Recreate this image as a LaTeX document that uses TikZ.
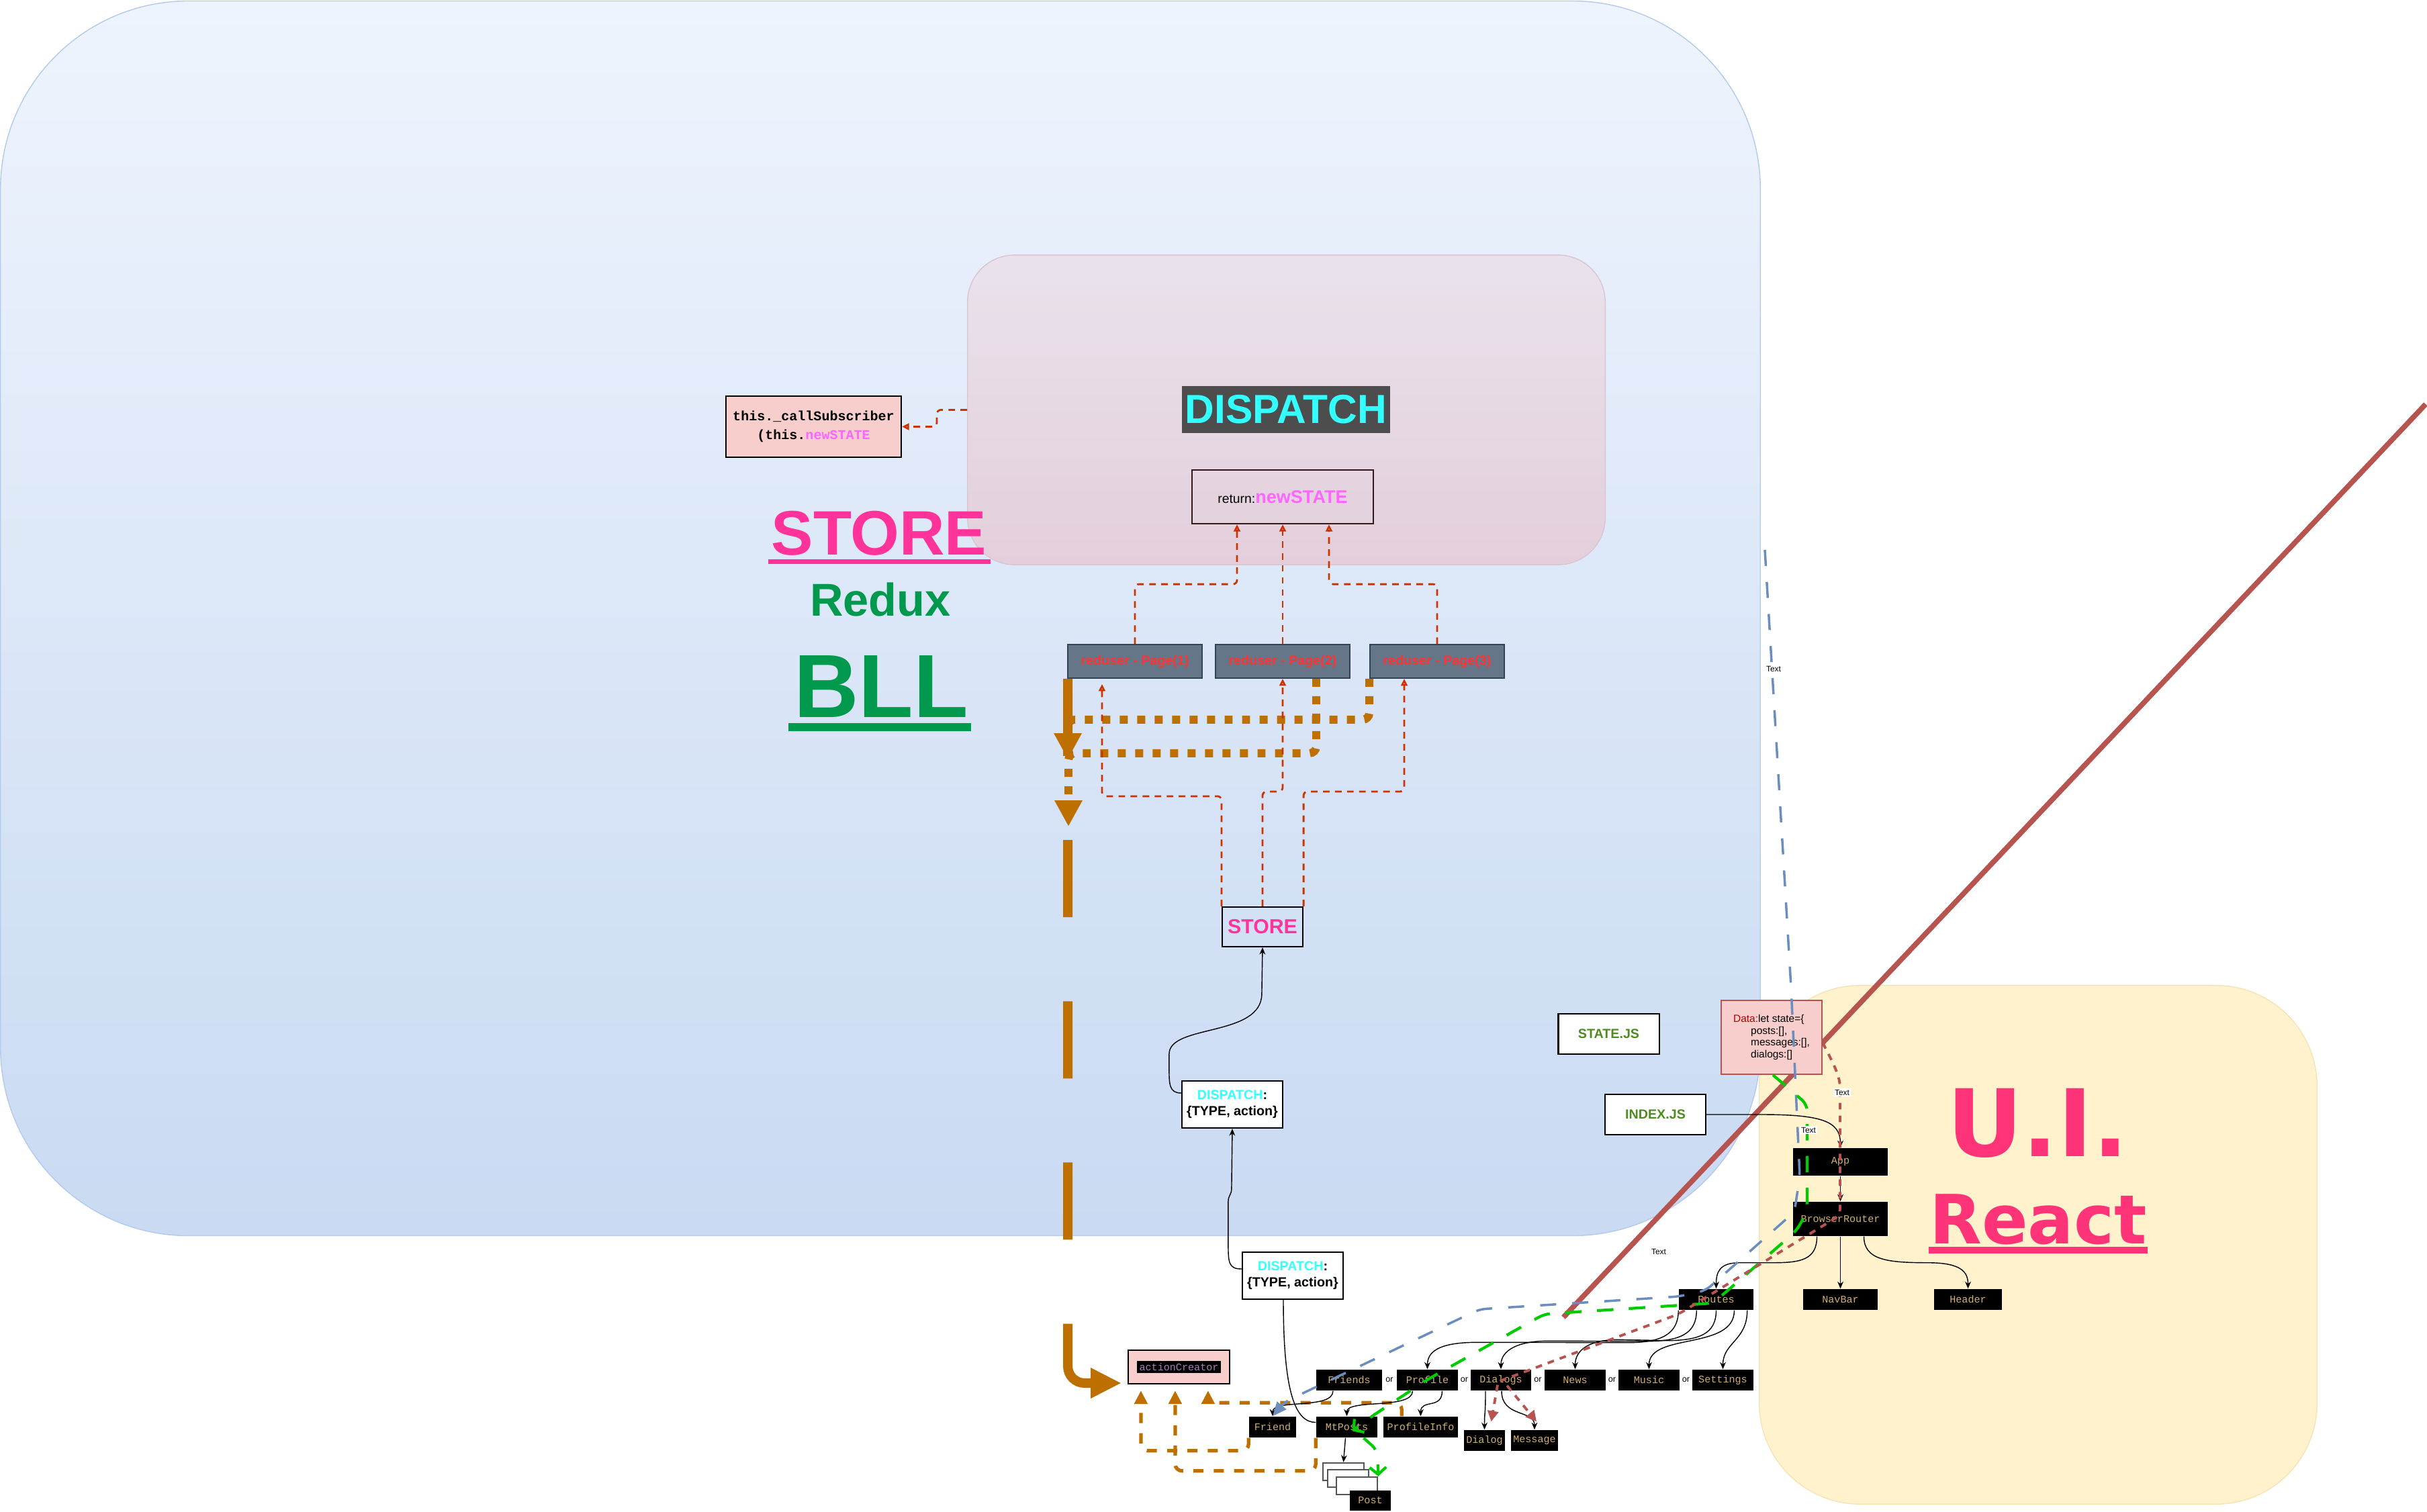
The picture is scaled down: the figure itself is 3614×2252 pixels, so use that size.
\documentclass[tikz,border=0pt]{standalone}
\usepackage{fontspec}
\setmainfont{Liberation Sans}
\setmonofont{Liberation Mono}
\newfontfamily\djv{DejaVu Sans}
\usetikzlibrary{arrows.meta,calc}
\definecolor{bluetop}{HTML}{EEF4FD}
\definecolor{bluebot}{HTML}{C9DAF2}
\definecolor{blueln}{HTML}{B3CAEC}
\definecolor{yelfill}{HTML}{FFF2CC}
\definecolor{yelln}{HTML}{F3E3B5}
\definecolor{pinktop}{HTML}{E9E2EC}
\definecolor{pinkbot}{HTML}{E3CFDB}
\definecolor{pinkln}{HTML}{D9C4D2}
\definecolor{storepink}{HTML}{FF3399}
\definecolor{bllgreen}{HTML}{00994D}
\definecolor{uipink}{HTML}{FF3377}
\definecolor{dcyan}{HTML}{33FFFF}
\definecolor{dgrey}{HTML}{4D4D4D}
\definecolor{mag}{HTML}{FF66FF}
\definecolor{redor}{HTML}{CC3300}
\definecolor{ocol}{HTML}{BD7000}
\definecolor{redtxt}{HTML}{FF3333}
\definecolor{rgray}{HTML}{647687}
\definecolor{rgrayln}{HTML}{314354}
\definecolor{pinkfill}{HTML}{F8CECC}
\definecolor{dred}{HTML}{B85450}
\definecolor{datared}{HTML}{B20000}
\definecolor{tancol}{HTML}{D0B070}
\definecolor{jsgreen}{HTML}{4E8C21}
\definecolor{actpurple}{HTML}{A680B8}
\definecolor{dblue}{HTML}{6C8EBF}
\definecolor{dgreen}{HTML}{00CC00}
\definecolor{retln}{HTML}{331A1A}
\definecolor{stackln}{HTML}{555555}
\newcommand\fsz[2]{\fontsize{#1pt}{#2pt}\selectfont}
\tikzset{
  mono/.style={fill=black, text=tancol, font=\ttfamily\fsz{4.3}{5}, inner sep=0pt, minimum height=0.31cm},
  orlbl/.style={font=\fsz{3.6}{4}, inner sep=0pt},
  txtlbl/.style={font=\fsz{3.4}{4}, inner sep=0.6pt},
  redbox/.style={fill=rgray, draw=rgrayln, line width=0.5pt, text=redtxt, font=\bfseries\fsz{5.6}{6}, minimum width=2cm, minimum height=0.5cm, inner sep=0pt},
  wbox/.style={fill=white, draw=black, line width=0.6pt, inner sep=0pt},
  jsbox/.style={wbox, text=jsgreen, font=\bfseries\fsz{5.6}{6.5}, minimum width=1.5cm, minimum height=0.6cm},
  dispnode/.style={wbox, font=\bfseries\fsz{5.6}{6.8}, align=center, minimum width=1.5cm, minimum height=0.7cm},
  stackbox/.style={fill=white, draw=stackln, line width=0.7pt, minimum width=0.61cm, minimum height=0.26cm, inner sep=0pt},
  rdot/.style={draw=redor, line width=0.8pt, dash pattern=on 2.8pt off 2.3pt, rounded corners=0.06cm, -{Triangle[open,length=3pt,width=2.8pt]}},
  blk/.style={draw=black, line width=0.4pt, -{Stealth[length=3pt,width=2.5pt]}},
  blkline/.style={draw=black, line width=0.4pt},
  othick/.style={draw=ocol, line width=4pt, dash pattern=on 32.7pt off 35.6pt, rounded corners=0.25cm, -{Triangle[length=13pt,width=12pt]}},
  odot/.style={draw=ocol, line width=3.4pt, dash pattern=on 3.4pt off 4pt, rounded corners=0.1cm, -{Triangle[length=11pt,width=11pt]}},
  odash/.style={draw=ocol, line width=1.5pt, dash pattern=on 4.3pt off 4.3pt, rounded corners=0.1cm, -{Triangle[length=5.7pt,width=5.4pt]}},
  bdash/.style={draw=dblue, line width=1pt, dash pattern=on 6.8pt off 6.8pt, rounded corners=0.1cm, -{Triangle[length=6pt,width=5pt]}},
  gdash/.style={draw=dgreen, line width=1.2pt, dash pattern=on 7pt off 6.5pt, rounded corners=0.1cm, -{Straight Barb[length=3pt,width=7pt]}},
  rdash/.style={draw=dred, line width=1.1pt, dash pattern=on 2.8pt off 2.6pt, rounded corners=0.1cm},
}
\begin{document}
\begin{tikzpicture}[x=0.01cm,y=-0.01cm]
\useasboundingbox (0,0) rectangle (3614,2252);
\fill[white] (0,0) rectangle (3614,2252);

% regions
\node[draw=blueln, line width=0.4pt, top color=bluetop, bottom color=bluebot, rounded corners=2.8cm, minimum width=26.19cm, minimum height=18.38cm, inner sep=0pt] (bllzone) at (1311,921) {};
\node[draw=yelln, line width=0.4pt, fill=yelfill, rounded corners=1.5cm, minimum width=8.3cm, minimum height=7.72cm, inner sep=0pt] (uizone) at (3035,1854) {};
\node[draw=pinkln, line width=0.4pt, top color=pinktop, bottom color=pinkbot, rounded corners=0.7cm, minimum width=9.49cm, minimum height=4.61cm, inner sep=0pt] (dispc) at (1915.5,610.5) {};

% red diagonal line
\coordinate (lnA) at (3612,602);
\coordinate (lnB) at (2328,1962);
\draw[dred, line width=2.2pt] (lnA) -- (lnB);

% big labels
\node[anchor=base, text=storepink, font=\bfseries\fsz{26.6}{30}, inner sep=0pt] (storelbl) at (1309,827) {STORE};
\fill[storepink] (1144,833) rectangle (1475,840);
\node[anchor=base, text=bllgreen, font=\bfseries\fsz{19.5}{22}, inner sep=0pt] (reduxlbl) at (1311,918) {Redux};
\node[anchor=base, text=bllgreen, font=\bfseries\fsz{38}{42}, inner sep=0pt] (blllbl) at (1312,1068) {BLL};
\fill[bllgreen] (1174,1077) rectangle (1446,1089);
\node[anchor=base, text=uipink, font=\djv\bfseries\fsz{39.5}{44}, inner sep=0pt] (uilbl) at (3034,1722) {U.I.};
\node[anchor=base, text=uipink, font=\djv\bfseries\fsz{28.8}{32}, inner sep=0pt] (reactlbl) at (3035,1852) {React};
\fill[uipink] (2872,1857) rectangle (3198,1867);

% dispatch area
\node[fill=dgrey, text=dcyan, font=\bfseries\fsz{17.2}{20}, inner sep=0pt, minimum width=3.1cm, minimum height=0.7cm] (dlabel) at (1915,610) {DISPATCH};
\node[draw=retln, line width=0.6pt, inner sep=0pt, minimum width=2.7cm, minimum height=0.8cm, font=\fsz{5.5}{6.5}] (ret) at (1910,740) {return:\textcolor{mag}{\bfseries\fsz{7.7}{9}newSTATE}};
\node[fill=pinkfill, draw=black, line width=0.6pt, inner sep=0pt, minimum width=2.61cm, minimum height=0.91cm, align=center, font=\ttfamily\bfseries\fsz{5.7}{8}] (callsub) at (1211.5,635.5) {this.\_callSubscriber\\(this.\textcolor{mag}{newSTATE}};

% reducers
\node[redbox] (red1) at (1690,985) {reduser - Page(1)};
\node[redbox] (red2) at (1910,985) {reduser - Page(2)};
\node[redbox] (red3) at (2140,985) {reduser - Page(3)};

\node[draw=black, line width=0.6pt, inner sep=0pt, minimum width=1.2cm, minimum height=0.59cm, text=storepink, font=\bfseries\fsz{8.6}{10}] (store) at (1880,1380.5) {STORE};
\node[dispnode] (disp1) at (1835,1645) {\textcolor{dcyan}{DISPATCH}:\\\{TYPE, action\}};
\node[dispnode] (disp2) at (1925,1900) {\textcolor{dcyan}{DISPATCH}:\\\{TYPE, action\}};
\node[fill=pinkfill, draw=black, line width=0.6pt, inner sep=0pt, minimum width=1.51cm, minimum height=0.5cm, font=\ttfamily\fsz{4.3}{5}] (actc) at (1755.5,2036) {\setlength{\fboxsep}{1pt}\colorbox{black}{\textcolor{actpurple}{actionCreator}}};

% js files and data
\node[jsbox] (statejs) at (2395.5,1540) {STATE.JS};
\node[jsbox] (indexjs) at (2465,1660) {INDEX.JS};
\node[fill=pinkfill, draw=dred, line width=0.6pt, inner sep=0pt, minimum width=1.5cm, minimum height=1.1cm, align=left, font=\fsz{4.4}{5.1}] (data) at (2638,1545) {\textcolor{datared}{Data:}let state=\{\\\hspace*{7.4pt}posts:[],\\\hspace*{7.4pt}messages:[],\\\hspace*{7.4pt}dialogs:[]};

% react components
\node[mono, minimum width=1.41cm, minimum height=0.41cm] (app) at (2740.5,1730.5) {App};
\node[mono, minimum width=1.41cm, minimum height=0.51cm] (brouter) at (2740.5,1815.5) {BrowserRouter};
\node[mono, minimum width=1.11cm] (routes) at (2555.5,1935.5) {Routes};
\node[mono, minimum width=1.11cm] (navbar) at (2740.5,1935.5) {NavBar};
\node[mono, minimum width=1.01cm] (header) at (2930.5,1935.5) {Header};
\node[mono, minimum width=0.98cm] (friends) at (2009,2055.5) {Friends};
\node[mono, minimum width=0.91cm] (profile) at (2125.5,2055.5) {Profile};
\node[mono, minimum width=0.9cm] (dialogs) at (2235,2055.5) {Dialogs};
\node[mono, minimum width=0.91cm] (news) at (2345.5,2055.5) {News};
\node[mono, minimum width=0.91cm] (music) at (2455.5,2055.5) {Music};
\node[mono, minimum width=0.91cm] (settings) at (2565.5,2055.5) {Settings};
\node[orlbl] (or1) at (2069,2055.5) {or};
\node[orlbl] (or2) at (2180.5,2055.5) {or};
\node[orlbl] (or3) at (2290,2055.5) {or};
\node[orlbl] (or4) at (2400.5,2055.5) {or};
\node[orlbl] (or5) at (2510.5,2055.5) {or};
\node[mono, minimum width=0.7cm] (friend) at (1895,2125.5) {Friend};
\node[mono, minimum width=0.91cm] (mtposts) at (2005.5,2125.5) {MtPosts};
\node[mono, minimum width=1.11cm] (pinfo) at (2115.5,2125.5) {ProfileInfo};
\node[mono, minimum width=0.61cm] (dialog) at (2210.5,2145.5) {Dialog};
\node[mono, minimum width=0.7cm] (message) at (2285,2145.5) {Message};
\node[stackbox] (s1) at (2000.5,2192) {};
\node[stackbox] (s2) at (2007.5,2202) {};
\node[stackbox] (s3) at (2020.5,2213) {};
\node[mono, minimum width=0.61cm, minimum height=0.3cm] (post) at (2040.5,2235) {Post};

% orange connectors
\draw[othick] ($(red1.south west)+(1,0)$) |- ($(actc.west)+(-9,24)$);
\draw[odot] ($(red3.south west)+(0,0)$) |- ++(-449,61) -- ++(0,59);
\draw[odot] ($(red2.south)+(50,0)$) |- ++(-369,111) -- ++(0,109);
\draw[odash] (friend.south west) -- ++(0,19) -| ($(actc.south west)+(20,9)$);
\draw[odash] (mtposts.south west) -- ++(0,49) -| ($(actc.south west)+(71,9)$);
\draw[odash] ($(pinfo.north west)+(28,0)$) -- ++(0,-20) -| ($(actc.south west)+(120,9)$);

% reducer connectors
\draw[rdot] (store.north west) -- ++(0,-164) -| ($(red1.south)+(-49,8)$);
\draw[rdot] (store.north) -- ++(0,-171) -| (red2.south);
\draw[rdot] (store.north east) -- ++(0,-171) -| ($(red3.south)+(-49,0)$);
\draw[rdot] (red1.north) -- ++(0,-89) -| ($(ret.south)+(-68,0)$);
\draw[rdot] (red2.north) -- (ret.south);
\draw[rdot] (red3.north) -- ++(0,-89) -| ($(ret.south)+(69,0)$);
\draw[rdot] (dispc.west) -- ++(-45,0) |- (callsub.east);

% black connectors
\draw[blk] ($(disp1.west)+(0,-17)$) .. controls +(-18,0) and +(0,25) .. ++(-18,-38) -- ++(0,-20) .. controls +(0,-45) and +(0,65) .. ++(138,-90) -- (store.south);
\draw[blk] ($(disp2.west)+(0,-10)$) .. controls +(-20,0) and +(0,30) .. ++(-20,-40) -- ++(0,-60) .. controls +(0,-10) and +(0,10) .. ++(5,-20) -- (disp1.south);
\draw[blkline] ($(disp2.south)+(-14,0)$) .. controls +(0,140) and +(-30,0) .. ($(mtposts.west)+(0,-7)$);
\draw[blk] (indexjs.east) -- ++(80,0) .. controls +(90,0) and +(0,-40) .. (app.north);
\draw[blk] (app.south) -- (brouter.north);
\draw[blk] ($(brouter.south)+(-35,0)$) .. controls +(0,35) and +(40,0) .. ++(-65,39) -- ++(-50,0) .. controls +(-30,0) and +(0,-25) .. (routes.north);
\draw[blk] (brouter.south) -- (navbar.north);
\draw[blk] ($(brouter.south)+(35,0)$) .. controls +(0,35) and +(-60,0) .. ++(95,39) .. controls +(50,0) and +(0,-25) .. (header.north);
\draw[blk] (routes.south west) .. controls +(0,35) and +(50,0) .. ++(-75,48) -- ($(profile.north)+(75,-40)$) .. controls +(-50,0) and +(0,-30) .. (profile.north);
\draw[blk] ($(routes.south west)+(27,0)$) .. controls +(0,35) and +(50,0) .. ++(-75,46) -- ($(dialogs.north)+(70,-42)$) .. controls +(-45,0) and +(0,-28) .. (dialogs.north);
\draw[blk] (routes.south) .. controls +(0,35) and +(50,0) .. ++(-75,45) -- ($(news.north)+(65,-44)$) .. controls +(-45,0) and +(0,-28) .. (news.north);
\draw[blk] ($(routes.south)+(27,0)$) .. controls +(0,60) and +(0,-55) .. (music.north);
\draw[blk] ($(routes.south east)+(-10,0)$) .. controls +(0,45) and +(0,-40) .. (settings.north);
\draw[blk] ($(friends.south)+(-24,0)$) .. controls +(0,28) and +(0,-26) .. (friend.north);
\draw[blk] ($(profile.south)+(-22,0)$) .. controls +(0,28) and +(0,-26) .. (mtposts.north);
\draw[blk] ($(profile.south)+(22,0)$) .. controls +(0,28) and +(0,-26) .. (pinfo.north);
\draw[blk] ($(dialogs.south)+(-23,0)$) .. controls +(0,40) and +(0,-30) .. (dialog.north);
\draw[blk] ($(dialogs.south)+(1,0)$) .. controls +(0,40) and +(0,-30) .. (message.north);
\draw[blk] ($(mtposts.south)+(-2,0)$) -- (s1.north);

% colored dashed connectors
\coordinate (bstart) at (2628,819);
\draw[bdash] (bstart) -- (2667,1470) -- (2680,1752) -- (2672,1805) -- (2540,1922) -- (2500,1931) -- (2203,1950) -- (1913,2088) -- (friend.north);
\draw[gdash] ($(data.south)+(2,0)$) -- (2660,1618) -- (2691,1645) -- (2691,1805) -- (2675,1833) -- (2567,1927) -- (2550,1941) -- (2300,1957) -- (2125,2055) -- (2042,2110) -- ($(mtposts.north)+(8,22)$);
\draw[gdash] ($(mtposts.south)+(25,0)$) -- (2051,2160) -- (s3.north east);
\draw[rdash] ($(data.east)+(0,8)$) .. controls (2725,1575) and (2740,1600) .. (2740,1630) -- (2740,1810) -- (2500,1957) -- ($(dialogs.center)+(-3,2)$);
\draw[rdash, -{Triangle[length=4.5pt,width=4.5pt]}] ($(dialogs.south)+(-5,-9)$) -- ($(dialog.north)+(10,-12)$);
\draw[rdash, -{Triangle[length=4.5pt,width=4.5pt]}] ($(dialogs.south)+(9,-8)$) -- ($(message.north)+(3,-12)$);

% text labels
\node[txtlbl, fill=white] (t1) at (2641,996) {Text};
\node[txtlbl, fill=white] (t2) at (2743,1627) {Text};
\node[txtlbl, fill=white] (t3) at (2693,1683) {Text};
\node[txtlbl] (t4) at (2470,1864) {Text};
\end{tikzpicture}
\end{document}
